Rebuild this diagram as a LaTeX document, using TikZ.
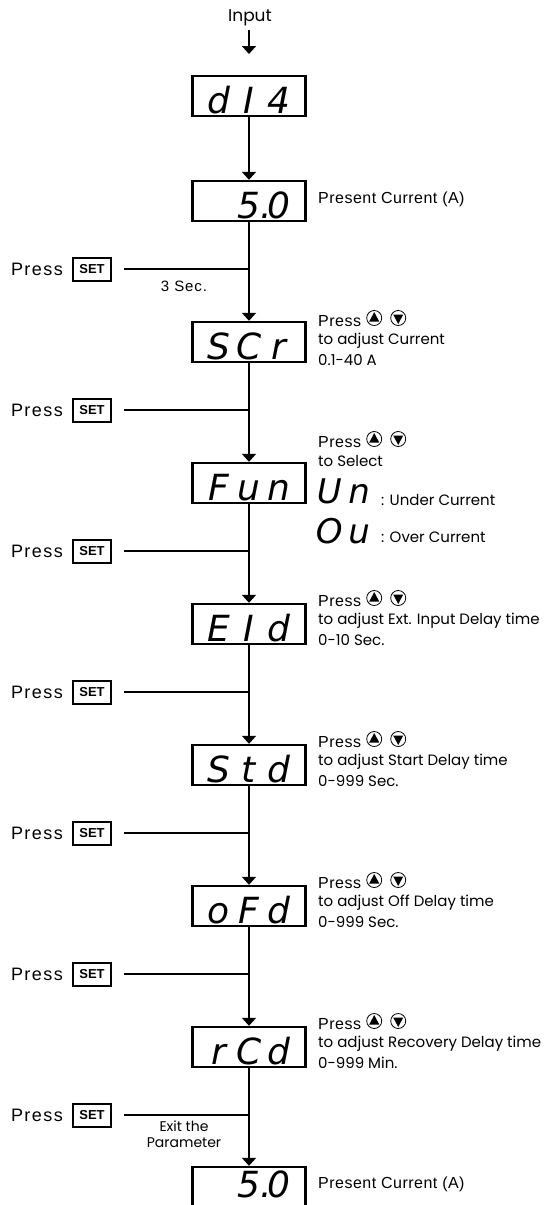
\documentclass[tikz,border=0pt]{standalone}
\usepackage{fontspec}
\setmainfont{Liberation Sans}
\newfontfamily\poppins{Poppins}
\newfontfamily\segfont{DejaVu Sans}
\usetikzlibrary{arrows.meta, positioning, calc}

% one digit place of the display
\newcommand\dgt[1]{\makebox[30pt]{#1}}

\tikzset{
  dispbox/.style={draw, line width=2.4pt, minimum width=113pt, minimum height=40pt,
    inner sep=0pt, text height=34pt, text depth=0pt,
    font=\segfont\itshape\fontsize{36}{36}\selectfont},
  segsmall/.style={inner sep=0pt, font=\segfont\itshape\fontsize{34}{34}\selectfont},
  setbox/.style={draw, line width=2pt, minimum width=38pt, minimum height=23pt,
    inner sep=0pt, font=\bfseries\fontsize{13}{13}\selectfont},
  press/.style={inner sep=0pt, font=\fontsize{18}{18}\selectfont\addfontfeature{LetterSpace=8}},
  cur/.style={inner sep=0pt, anchor=west, font=\fontsize{16}{16}\selectfont\addfontfeature{LetterSpace=3}},
  desc/.style={inner sep=0pt, anchor=west, font=\poppins\fontsize{15}{15}\selectfont},
  note/.style={inner sep=0pt, font=\fontsize{15}{15}\selectfont\addfontfeature{LetterSpace=6}},
  conn/.style={line width=2.4pt},
  flow/.style={conn, -{Triangle[width=14pt,length=8pt]}},
  updown/.pic={
    \foreach \dx/\dr in {0/1, 24/-1}{
      \draw[line width=0.8pt] (\dx,0) circle (7.5pt);
      \fill (\dx-5,3.5*\dr) -- (\dx+5,3.5*\dr) -- (\dx,-6*\dr) -- cycle;
    }
  }
}

\begin{document}
\begin{tikzpicture}[x=1pt, y=-1pt]
  \useasboundingbox (0,0) rectangle (547,1205);
  % Input
  \node[inner sep=4pt, font=\poppins\fontsize{17}{17}\selectfont] (inp) at (250,18) {Input};
  \coordinate (inend) at (249,54);
  \draw[line width=1.8pt, -{Triangle[width=14pt,length=8pt]}] (inp.south -| inend) -- (inend);
  % Displays
  \node[dispbox] (b1) at (249,96) {\dgt{d}\dgt{I}\dgt{4}};
  \node[dispbox] (b2) at (249,201) {\dgt{}\dgt{5\rlap{.}}\dgt{0}};
  \node[dispbox] (b3) at (249,342) {\dgt{S}\dgt{C}\dgt{r}};
  \node[dispbox] (b4) at (249,483) {\dgt{F}\dgt{u}\dgt{n}};
  \node[dispbox] (b5) at (249,624) {\dgt{E}\dgt{I}\dgt{d}};
  \node[dispbox] (b6) at (249,765) {\dgt{S}\dgt{t}\dgt{d}};
  \node[dispbox] (b7) at (249,906) {\dgt{o}\dgt{F}\dgt{d}};
  \node[dispbox] (b8) at (249,1047) {\dgt{r}\dgt{C}\dgt{d}};
  \node[dispbox, text height=27pt, text depth=7pt] (b9) at (249,1187) {\dgt{}\dgt{5\rlap{.}}\dgt{0}};
  \foreach \a/\b in {b1/b2, b2/b3, b3/b4, b4/b5, b5/b6, b6/b7, b7/b8, b8/b9}
    \draw[flow] (\a) -- (\b);
  % Press SET
  \foreach \i/\yy in {1/269, 2/410, 3/551, 4/692, 5/833, 6/974, 7/1115} {
    \node[setbox] (set\i) at (92,\yy) {SET};
    \node[press, left=9pt of set\i] (pr\i) {Press};
    \coordinate (j\i) at (249,\yy);
    \draw[conn] ([xshift=12pt]set\i.east) -- (j\i);
  }
  \node[note] (sec) at (184,286) {3 Sec.};
  \node[inner sep=0pt, align=center, font=\poppins\fontsize{14}{15.5}\selectfont] (exit) at (184,1134) {Exit the\\Parameter};
  % Texts on the right
  \node[cur] (c2) at (318,199) {Present Current (A)};
  \node[cur] (c9) at (318,1184) {Present Current (A)};
  \foreach \i/\yy/\what/\rng in {3/321/Current/0.1-40 A, 5/601/Ext. Input Delay time/0-10 Sec.,
      6/742/Start Delay time/0-999 Sec., 7/883/Off Delay time/0-999 Sec.,
      8/1024/Recovery Delay time/0-999 Min.} {
    \node[cur] (p\i) at (318,\yy) {Press};
    \pic at ([xshift=13pt,yshift=3pt]p\i.east) {updown};
    \node[desc] (t\i) at (318,\yy+20) {to adjust \what};
    \node[desc] (r\i) at (318,\yy+39) {\rng};
  }
  \node[cur] (p4) at (318,442) {Press};
  \pic at ([xshift=13pt,yshift=3pt]p4.east) {updown};
  \node[desc] (t4) at (318,461) {to Select};
  \node[segsmall, anchor=base west] (un) at (314,503) {\dgt{U}\dgt{n}};
  \node[desc] (unt) at (381,500) {: Under Current};
  \node[segsmall, anchor=base west] (ov) at (314,543) {\dgt{O}\dgt{u}};
  \node[desc] (ovt) at (381,537) {: Over Current};
\end{tikzpicture}
\end{document}
